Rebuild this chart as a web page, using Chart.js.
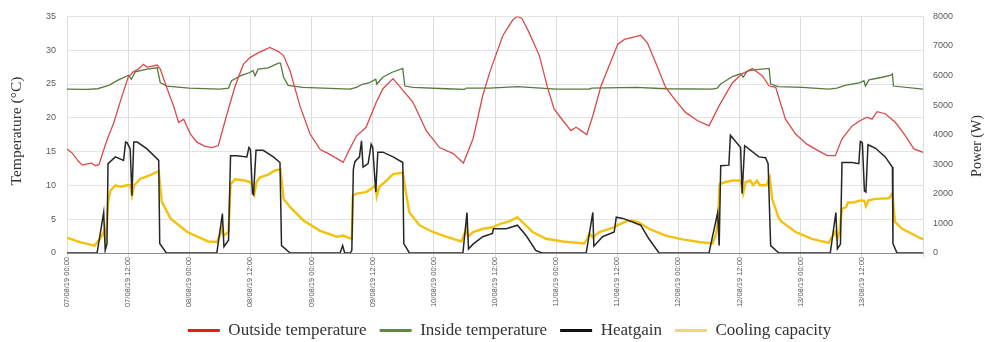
<!DOCTYPE html>
<html>
<head>
<meta charset="utf-8">
<script src="https://cdn.jsdelivr.net/npm/chart.js@4.4.1/dist/chart.umd.min.js"></script>
<style>
  html, body { margin: 0; padding: 0; background: #fff; }
  #wrap { width: 985px; height: 342px; position: relative; }
</style>
</head>
<body>
<div id="wrap"><canvas id="chart"></canvas></div>
<script>
// x axis = hours since 07/08/19 00:00, one label every 12 h
const tickLabels = [
  '07/08/19 00:00', '07/08/19 12:00', '08/08/19 00:00', '08/08/19 12:00',
  '09/08/19 00:00', '09/08/19 12:00', '10/08/19 00:00', '10/08/19 12:00',
  '11/08/19 00:00', '11/08/19 12:00', '12/08/19 00:00', '12/08/19 12:00',
  '13/08/19 00:00', '13/08/19 12:00'
];

// Outside temperature (°C)
const outsideHours = [0, 1, 2.2, 3, 4, 4.8, 5.6, 6.3, 7, 8, 9.2, 10.5, 12, 13, 14, 15, 15.7, 16.5, 17.7, 18.3,
  19.6, 20.9, 21.9, 22.9, 24.2, 25.5, 27, 28.5, 29.7, 31.3, 33, 34.6, 35.9, 37.5, 39.8, 41.5, 42.5, 43.8,
  45.7, 47.7, 49.7, 51.3, 53.6, 54.2, 55.5, 56.8, 58.7, 60.7, 62, 64, 67.9, 70.5, 73.1, 75.8, 77.8, 79.7,
  81.6, 83, 85.5, 87.5, 88.4, 89.3, 90.7, 92.7, 94.3, 95.6, 97.3, 98.9, 99.9, 100.9, 102, 103.2, 104.8,
  106.4, 108.1, 109.4, 111, 112.6, 113.9, 115.5, 117.5, 119.5, 121.4, 123.7, 126, 128, 130.6, 132.5,
  134.5, 136.5, 137.8, 139.1, 141, 143, 145.2, 147.5, 149.2, 150.8, 152.1, 154.1, 155.7, 157, 158, 159,
  160.6, 162.6, 164.5, 166.2, 168];
const outsideTemp = [15.4, 14.8, 13.6, 13.0, 13.2, 13.3, 12.9, 13.1, 14.8, 17.0, 19.3, 22.5, 26.0, 26.8, 27.2, 27.9, 27.5, 27.6, 27.8, 27.2,
  24.4, 21.8, 19.3, 19.8, 17.6, 16.4, 15.8, 15.6, 15.9, 20.3, 24.7, 27.9, 28.9, 29.6, 30.4, 29.8, 29.2, 26.9,
  21.8, 17.6, 15.3, 14.7, 13.7, 13.4, 15.4, 17.3, 18.6, 22.3, 24.3, 25.8, 22.3, 18.1, 15.6, 14.7, 13.3, 16.9,
  23.3, 26.8, 32.1, 34.5, 35.0, 34.7, 32.6, 29.2, 24.5, 21.3, 19.6, 18.1, 18.6, 18.1, 17.5, 20.3, 24.7,
  27.7, 30.9, 31.6, 31.9, 32.2, 31.1, 28.2, 24.5, 22.5, 20.8, 19.6, 18.8, 21.8, 25.2, 26.5,
  27.3, 26.2, 24.7, 24.5, 19.8, 17.6, 16.1, 15.1, 14.4, 14.4, 16.9, 18.8, 19.6, 20.1, 19.8, 20.9,
  20.6, 19.3, 17.4, 15.4, 14.9];

// Inside temperature (°C)
const insideHours = [0, 4, 6, 6.9, 8.2, 10.1, 12.1, 12.6, 13.4, 15.7, 17.7, 18.3, 19.6, 24, 30, 31.7, 32.3, 34,
  35.9, 36.5, 36.9, 37.5, 39.5, 41.5, 41.9, 42.5, 43.4, 46.3, 55.5, 56.8, 58.1, 59.4, 60.6, 60.8, 62, 63.7,
  65.9, 66.3, 67.9, 74.4, 78, 78.4, 83, 88.4, 96, 102.5, 103, 111.7, 117.5, 126.6, 127.6, 128.3, 130.6,
  132.2, 132.7, 133.5, 134.9, 137.8, 138.1, 139.6, 144.3, 149.5, 151.1, 152.7, 155.7, 156.4, 156.7, 157.4,
  160, 161.7, 162, 162.2, 168];
const insideTemp = [24.25, 24.2, 24.3, 24.5, 24.8, 25.6, 26.3, 25.7, 26.8, 27.2, 27.4, 25.2, 24.7, 24.4, 24.25, 24.4, 25.5, 26.2,
  26.7, 27.0, 26.2, 27.2, 27.4, 28.1, 28.1, 26.0, 24.8, 24.5, 24.25, 24.5, 25.0, 25.2, 25.7, 25.0, 26.0, 26.7,
  27.3, 24.7, 24.5, 24.3, 24.2, 24.4, 24.4, 24.6, 24.25, 24.25, 24.4, 24.5, 24.3, 24.25, 24.4, 25.0, 26.1,
  26.5, 26.0, 26.9, 27.1, 27.3, 25.0, 24.6, 24.5, 24.25, 24.4, 24.8, 25.2, 25.5, 24.7, 25.6,
  26.0, 26.3, 26.5, 24.7, 24.25];

// Heatgain (W)
const heatgainHours = [0, 5.9, 7.2, 7.5, 7.85, 8.05, 9.5, 11.1, 11.5, 11.8, 12.4, 12.75, 13.1, 13.8, 15.7, 18, 18.2, 19.5,
  29.4, 30.5, 30.8, 31.7, 32.1, 33.3, 35.3, 35.7, 36, 36.4, 36.6, 37.1, 38.5, 40.5, 41.8, 42.1, 43.8,
  53.6, 54.1, 54.5, 55.6, 55.9, 56.2, 56.5, 57.4, 57.8, 58.1, 59.1, 59.7, 60, 60.6, 61, 62, 64, 65.9, 66.1, 67.2,
  77.7, 78.5, 78.8, 79.7, 81.6, 83.5, 83.7, 86.2, 88.4, 90.1, 92, 93.2,
  101.9, 103.2, 103.4, 105.1, 107.4, 107.8, 109.1, 111, 112.6, 114.2, 116.2,
  126, 127.7, 128, 128.3, 129.9, 130.2, 132.2, 132.5, 133, 135.8, 137.1, 137.6, 138.1, 139.7,
  149.8, 150.9, 151.2, 151.8, 152.1, 154.1, 155.4, 155.7, 156.1, 156.5, 156.8, 157.2, 158.7, 160.6, 162, 162.1, 162.9, 168];
const heatgainPower = [0, 0, 1370, 90, 320, 3020, 3250, 3130, 3750, 3730, 3520, 1940, 3750, 3750, 3520, 3130, 320, 0,
  0, 1330, 210, 430, 3290, 3290, 3250, 3570, 3500, 2010, 1970, 3470, 3470, 3250, 3060, 250, 0,
  0, 250, 0, 0, 90, 2830, 3090, 3250, 3790, 2900, 3020, 3680, 3570, 2060, 3410, 3410, 3250, 3060, 320, 0,
  0, 1370, 140, 300, 550, 660, 820, 820, 940, 590, 90, 0,
  0, 1370, 230, 550, 710, 1210, 1170, 1050, 940, 480, 0,
  0, 1370, 250, 2950, 2970, 3980, 3570, 2010, 3630, 3250, 3220, 3020, 250, 0,
  0, 1370, 140, 300, 3060, 3060, 3020, 3770, 3730, 2100, 2060, 3660, 3540, 3250, 2900, 320, 0, 0];

// Cooling capacity (W)
const coolingHours = [0, 2.5, 5.4, 6.5, 7.2, 7.5, 7.85, 8.05, 8.5, 9.5, 10.5, 11.8, 12.4, 12.75, 13.2, 14.4, 16.3, 18,
  18.6, 20.3, 23.6, 27.7, 29.4, 30, 30.5, 30.8, 31.7, 32.1, 33, 34.9, 35.9, 36.4, 36.8, 37.2, 37.9, 39.5, 40.8,
  41.9, 42.5, 43.8, 46.4, 49.7, 52.9, 54.3, 55, 55.9, 56.1, 56.8, 58.7, 59.7, 60.6, 60.8, 61.3, 62.7, 64, 65.9,
  66.5, 67.2, 69.2, 71.8, 74.4, 77.4, 78.4, 78.7, 79.7, 81.6, 83.6, 84.9, 86.8, 88.4, 91.4, 94, 97.3, 101.5,
  102.1, 102.5, 103.2, 104.5, 107.4, 107.7, 109.7, 111, 112.3, 114.2, 117.5, 120.8, 124, 126.7, 127.3, 127.7,
  128.1, 129.3, 130.6, 132.2, 132.7, 133.2, 134.1, 134.7, 135.4, 136, 137.3, 137.9, 138.4, 139.7, 140.3, 143,
  146.2, 149.5, 150.3, 150.7, 151.2, 151.6, 152.1, 152.9, 153.3, 154.4, 155.7, 156.5, 156.8, 157.3, 158.7,
  161.3, 162, 162.5, 163.9, 166.5, 168];
const coolingPower = [520, 370, 250, 480, 710, 480, 1050, 1710, 2100, 2290, 2240, 2290, 2290, 1940, 2290, 2510, 2630, 2770,
  1740, 1170, 710, 390, 370, 590, 870, 590, 710, 2330, 2490, 2450, 2400, 2290, 2010, 2400, 2560, 2650, 2790,
  2830, 1830, 1550, 1100, 750, 550, 590, 530, 480, 1940, 2010, 2060, 2170, 2290, 1920, 2240, 2450, 2670, 2720,
  2060, 1370, 940, 710, 550, 390, 820, 550, 710, 820, 870, 980, 1070, 1210, 710, 480, 390, 320,
  480, 660, 530, 710, 870, 910, 1070, 1100, 1030, 820, 590, 460, 370, 320, 590, 980,
  2330, 2400, 2450, 2450, 2010, 2400, 2450, 2290, 2450, 2290, 2290, 2560, 1830, 1170, 1050, 710,
  480, 340, 590, 710, 480, 710, 1490, 1550, 1710, 1710, 1780, 1760, 1580, 1780, 1830,
  1850, 2010, 1050, 820, 590, 460];

function toPoints(xs, ys) {
  return xs.map((x, i) => ({ x: x, y: ys[i] }));
}

const serif = '"Liberation Serif", "DejaVu Serif", serif';
const sans = '"Liberation Sans", Arial, sans-serif';

// both axis titles read bottom-to-top, so draw them here
const axisTitles = {
  id: 'axisTitles',
  afterLayout(chart) {
    // legend in the original sits a little right of the canvas centre
    chart.legend.left += 34;
  },
  afterDraw(chart) {
    const ctx = chart.ctx;
    ctx.save();
    ctx.fillStyle = '#333';
    ctx.textAlign = 'center';
    ctx.textBaseline = 'middle';
    ctx.font = '15.5px ' + serif;
    ctx.translate(17, 131);
    ctx.rotate(-Math.PI / 2);
    ctx.fillText('Temperature (°C)', 0, 0);
    ctx.restore();
    ctx.save();
    ctx.fillStyle = '#333';
    ctx.textAlign = 'center';
    ctx.textBaseline = 'middle';
    ctx.font = '14px ' + serif;
    ctx.translate(977, 146);
    ctx.rotate(-Math.PI / 2);
    ctx.fillText('Power (W)', 0, 0);
    ctx.restore();
  }
};

Chart.defaults.font.family = sans;

const chart = new Chart(document.getElementById('chart'), {
  type: 'line',
  data: {
    datasets: [
      {
        label: 'Outside temperature',
        data: toPoints(outsideHours, outsideTemp),
        borderColor: '#d94a4a',
        backgroundColor: '#e02020',
        borderWidth: 1.3,
        yAxisID: 'y'
      },
      {
        label: 'Inside temperature',
        data: toPoints(insideHours, insideTemp),
        borderColor: '#557a3d',
        backgroundColor: '#5e8c42',
        borderWidth: 1.3,
        yAxisID: 'y'
      },
      {
        label: 'Heatgain',
        data: toPoints(heatgainHours, heatgainPower),
        borderColor: '#262626',
        backgroundColor: '#111',
        borderWidth: 1.5,
        yAxisID: 'y1'
      },
      {
        label: 'Cooling capacity',
        data: toPoints(coolingHours, coolingPower),
        borderColor: '#f2c20f',
        backgroundColor: '#f0d870',
        borderWidth: 2.4,
        yAxisID: 'y1'
      }
    ]
  },
  options: {
    responsive: true,
    maintainAspectRatio: false,
    animation: false,
    elements: {
      point: { radius: 0 },
      line: { tension: 0 }
    },
    layout: { padding: { top: 15, left: 0, right: 0, bottom: -7 } },
    scales: {
      x: {
        type: 'linear',
        min: 0,
        max: 168,
        afterFit: (scale) => { scale.height = 56; },
        ticks: {
          stepSize: 12,
          autoSkip: false,
          minRotation: 90,
          maxRotation: 90,
          padding: 0,
          color: '#555',
          font: { size: 7.5 },
          callback: (value) => tickLabels[value / 12] || ''
        },
        grid: { color: '#dcdcdc', tickLength: 4 },
        border: { color: '#8c8c8c' }
      },
      y: {
        position: 'left',
        min: 0,
        max: 35,
        afterFit: (scale) => { scale.width = 67; },
        ticks: { stepSize: 5, padding: 11, color: '#595959', font: { size: 9 } },
        grid: { color: '#e3e3e3', drawTicks: false },
        border: { display: false }
      },
      y1: {
        position: 'right',
        min: 0,
        max: 8000,
        afterFit: (scale) => { scale.width = 62; },
        ticks: {
          stepSize: 1000,
          padding: 10,
          color: '#595959',
          font: { size: 9 },
          callback: (value) => String(value)
        },
        grid: { drawOnChartArea: false, drawTicks: false },
        border: { display: false }
      }
    },
    plugins: {
      legend: {
        position: 'bottom',
        labels: {
          boxWidth: 32,
          boxHeight: 3,
          padding: 13,
          color: '#333',
          font: { family: serif, size: 17 },
          generateLabels: (c) => Chart.defaults.plugins.legend.labels.generateLabels(c)
            .map(item => Object.assign(item, { lineWidth: 0 }))
        }
      },
      tooltip: { enabled: false }
    }
  },
  plugins: [axisTitles]
});
</script>
</body>
</html>
